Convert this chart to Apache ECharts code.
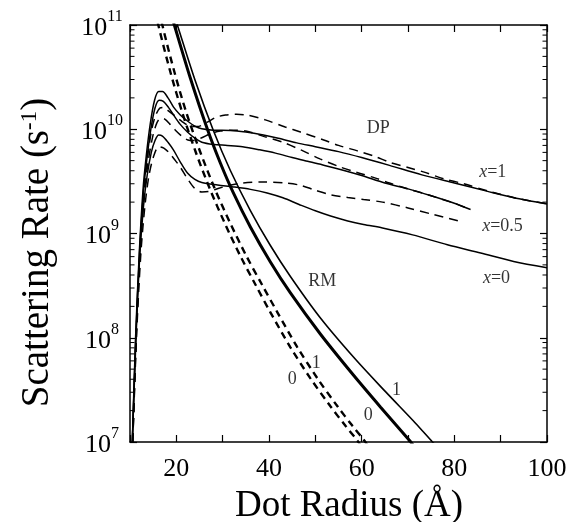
<!DOCTYPE html>
<html>
<head>
<meta charset="utf-8">
<script src="https://cdn.jsdelivr.net/npm/echarts@6/dist/echarts.min.js"></script>
<style>
html,body{margin:0;padding:0;background:#fff;}
#chart{width:580px;height:522px;}
</style>
</head>
<body>
<div id="chart"></div>
<script>
// ---- DP (deformation potential) curves: [dot radius Å, rate s^-1]
const dpSolidX1 = [[10.5,1e7],[11.2,1e8],[12,6.5e8],[12.8,2.6e9],[13.5,5.5e9],[14.4,1.15e10],[15.3,1.9e10],[16.2,2.3e10],[17,2.3e10],[18.2,2.0e10],[19.4,1.63e10],[20.8,1.38e10],[22.4,1.2e10],[24,1.07e10],[25.5,1.01e10],[28,9.8e9],[31.7,9.75e9],[35,9.4e9],[38.8,8.8e9],[42,8.2e9],[46,7.4e9],[50,6.8e9],[55,6.1e9],[60,5.35e9],[66,4.5e9],[73,3.65e9],[80,3.05e9],[87,2.55e9],[94,2.15e9],[100,1.92e9]];
const dpSolidX05 = [[10.5,1e7],[11.25,1e8],[12.05,6.5e8],[12.9,2.5e9],[13.6,5e9],[14.5,1e10],[15.4,1.6e10],[16.3,1.9e10],[17.2,1.85e10],[18.3,1.62e10],[19.4,1.37e10],[20.8,1.12e10],[22.4,9.4e9],[24,8.2e9],[25.5,7.5e9],[28,7.15e9],[31,7.0e9],[34.3,6.8e9],[38,6.35e9],[41.4,5.9e9],[45,5.35e9],[48,4.95e9],[52,4.5e9],[56,4.05e9],[60,3.6e9],[65,3.05e9],[70,2.68e9],[75,2.3e9],[80,1.95e9],[83.5,1.7e9]];
const dpSolidX0 = [[10.5,1e7],[11.3,1e8],[12.1,6e8],[12.9,1.8e9],[13.7,3.6e9],[14.6,6e9],[15.4,7.8e9],[16.2,8.8e9],[17,8.6e9],[18.2,7.5e9],[19.4,6.3e9],[20.8,4.9e9],[22.4,3.8e9],[24,3.3e9],[25.5,3.08e9],[28.9,2.92e9],[32.3,2.8e9],[36,2.65e9],[39.6,2.45e9],[43,2.2e9],[46.5,1.9e9],[50,1.65e9],[53.3,1.47e9],[57,1.32e9],[60.4,1.22e9],[64.5,1.13e9],[71,9.7e8],[78.5,7.8e8],[85.7,6.5e8],[92.8,5.4e8],[100,4.7e8]];
const dpDashX1 = [[10.6,1e7],[11.3,1e8],[12.1,6e8],[12.9,2.3e9],[13.7,5e9],[14.6,9.5e9],[15.5,1.35e10],[16.5,1.6e10],[17.3,1.62e10],[18.3,1.5e10],[19.8,1.33e10],[21.3,1.18e10],[23,1.07e10],[24.5,1.06e10],[26.7,1.17e10],[28.5,1.3e10],[30.6,1.37e10],[33,1.39e10],[35.5,1.36e10],[39.2,1.23e10],[43.5,1.05e10],[46.8,9.4e9],[51.8,7.9e9],[55,7.0e9],[59.1,6.2e9],[62.5,5.55e9],[66.2,4.8e9],[70,4.3e9],[73.3,3.9e9],[77.7,3.35e9],[82,3.0e9],[88,2.5e9],[94,2.15e9],[100,1.93e9]];
const dpDashX05 = [[10.6,1e7],[11.35,1e8],[12.15,6e8],[13,2.2e9],[13.9,4.8e9],[14.9,8.5e9],[15.8,1.15e10],[16.6,1.27e10],[17.5,1.25e10],[18.6,1.12e10],[19.8,9.8e9],[21.3,8.5e9],[22.5,7.9e9],[23.8,7.8e9],[25.5,8.3e9],[27.5,9.1e9],[29.5,9.6e9],[32,9.8e9],[35,9.6e9],[39,8.5e9],[43,7.5e9],[47,6.3e9],[51,5.2e9],[55,4.4e9],[59,3.85e9],[63,3.4e9],[66,3.05e9],[70,2.68e9],[75,2.3e9],[80,1.95e9],[83.5,1.7e9]];
const dpDashX0 = [[10.6,1e7],[11.4,1e8],[12.3,6e8],[13.2,1.8e9],[14.1,3.6e9],[15.1,5.5e9],[16.2,6.8e9],[17.3,6.6e9],[18.5,5.9e9],[19.8,5.0e9],[20.9,4.3e9],[22.5,3.3e9],[24,2.7e9],[25.5,2.5e9],[27,2.53e9],[29,2.7e9],[31.5,2.9e9],[34.3,3.05e9],[38.6,3.12e9],[43.5,3.05e9],[46.8,2.9e9],[50,2.6e9],[53.3,2.35e9],[57,2.22e9],[60.4,2.12e9],[64.5,2.0e9],[70,1.76e9],[75.5,1.52e9],[81.5,1.3e9]];

// ---- RM (ripple mechanism) curves
const rmSolidX0 = [[18.7,1.36e11],[19.57,1e11],[23.02,3.1e10],[26.69,1.006e10],[29.5,4.75e9],[32.31,2.45e9],[35.98,1.155e9],[40.3,5.33e8],[44.62,2.69e8],[51.08,1.087e8],[58.21,4.39e7],[64.04,2.17e7],[70.52,1.01e7],[71.2,9.2e6]];
const rmSolidX1 = [[19.35,1.33e11],[20.22,1e11],[24.1,2.9e10],[27.99,9.73e9],[31.66,4.02e9],[35.98,1.66e9],[40.3,7.67e8],[44.62,3.87e8],[51.1,1.547e8],[58.66,6.21e7],[65.14,3.04e7],[71.62,1.515e7],[75.29,1.0e7],[76,9.3e6]];
const rmDashX0 = [[15.5,1.4e11],[16.11,1e11],[18.7,3.56e10],[21.29,1.445e10],[24.1,6.19e9],[27.34,2.61e9],[30.58,1.22e9],[33.82,6.08e8],[37.06,3.24e8],[40.3,1.754e8],[44.62,8.1e7],[48.94,4.08e7],[53.26,2.2e7],[56.5,1.43e7],[59.09,1.03e7],[59.8,9.2e6]];
const rmDashX1 = [[16.4,1.4e11],[16.98,1e11],[19.57,3.56e10],[22.16,1.445e10],[25.08,6.19e9],[28.42,2.61e9],[31.77,1.22e9],[35.12,6.08e8],[38.47,3.24e8],[41.81,1.754e8],[46.13,8.1e7],[50.45,4.08e7],[54.77,2.2e7],[58.01,1.43e7],[60.6,1.03e7],[61.3,9.2e6]];

// ---- axes / ticks
const xMin = 10, xMax = 100, xStep = 10;
const xLabelValues = [20, 40, 60, 80, 100];
const yMin = 1e7, yMax = 1e11;
const yDecades = [1e7, 1e8, 1e9, 1e10];
const minorMultipliers = [2, 3, 4, 5, 6, 7, 8, 9];

// ---- text annotations [x, y, text]
const annotations = [
  [63.6, 1.03e10, 'DP'],
  [51.5, 3.5e8, 'RM'],
  [88.3, 3.89e9, '{i|x}=1'],
  [90.4, 1.18e9, '{i|x}=0.5'],
  [89.1, 3.74e8, '{i|x}=0'],
  [67.5, 3.15e7, '1'],
  [61.4, 1.82e7, '0'],
  [50.2, 5.7e7, '1'],
  [45.0, 4.0e7, '0']
];

const FONT = 'Liberation Serif';
const minorTickData = [];
yDecades.forEach(d => minorMultipliers.forEach(m => minorTickData.push([xMin, d * m])));

function lineSeries(data, opts) {
  return Object.assign({
    type: 'line', data: data, showSymbol: false, symbol: 'none',
    smooth: 0.3, silent: true, clip: true, z: 3,
    lineStyle: { color: '#000', width: 1.5, type: 'solid' }
  }, opts);
}

const chart = echarts.init(document.getElementById('chart'), null, { renderer: 'canvas' });
const axisCommon = {
  axisLine: { show: true, onZero: false, lineStyle: { color: '#000', width: 1.5 } },
  axisTick: { show: true, inside: true, length: 7, lineStyle: { color: '#000', width: 1.2 } },
  splitLine: { show: false }
};
chart.setOption({
  animation: false,
  backgroundColor: '#fff',
  grid: { left: 130, right: 33, top: 25, bottom: 80, containLabel: false, outerBoundsMode: 'none' },
  xAxis: [
    Object.assign({}, axisCommon, {
      type: 'value', position: 'bottom', min: xMin, max: xMax, interval: xStep,
      axisLabel: {
        show: true, margin: 14, color: '#000', fontFamily: FONT, fontSize: 26,
        formatter: v => xLabelValues.indexOf(v) >= 0 ? String(v) : ''
      },
      name: 'Dot Radius (Å)', nameLocation: 'middle', nameGap: 46,
      nameTextStyle: { color: '#000', fontFamily: FONT, fontSize: 37, padding: [0, 0, 0, 21] }
    }),
    Object.assign({}, axisCommon, {
      type: 'value', position: 'top', min: xMin, max: xMax, interval: xStep,
      axisLabel: { show: false }
    })
  ],
  yAxis: [
    Object.assign({}, axisCommon, {
      type: 'log', logBase: 10, position: 'left', min: yMin, max: yMax,
      axisLabel: {
        show: true, margin: 28, align: 'center', color: '#000', fontFamily: FONT,
        formatter: v => '{b|10}{s|' + Math.round(Math.log10(v)) + '}',
        rich: {
          b: { fontSize: 26, fontFamily: FONT, color: '#000', lineHeight: 32, verticalAlign: 'bottom' },
          s: { fontSize: 16, fontFamily: FONT, color: '#000', lineHeight: 16, verticalAlign: 'top' }
        }
      },
      name: 'Scattering Rate (s{sup|-1})', nameLocation: 'middle', nameGap: 73, nameRotate: 90,
      nameTextStyle: {
        color: '#000', fontFamily: FONT, fontSize: 39, padding: [0, 38, 0, 0],
        rich: { sup: { fontSize: 23, fontFamily: FONT, color: '#000', verticalAlign: 'top', lineHeight: 23 } }
      }
    }),
    Object.assign({}, axisCommon, {
      type: 'log', logBase: 10, position: 'right', min: yMin, max: yMax,
      axisLabel: { show: false }
    })
  ],
  series: [
    lineSeries(dpSolidX1, {}),
    lineSeries(dpSolidX05, {}),
    lineSeries(dpSolidX0, {}),
    lineSeries(dpDashX1, { lineStyle: { color: '#000', width: 1.5, type: [9, 6] } }),
    lineSeries(dpDashX05, { lineStyle: { color: '#000', width: 1.5, type: [9, 6] } }),
    lineSeries(dpDashX0, { lineStyle: { color: '#000', width: 1.5, type: [9, 6] } }),
    lineSeries(rmSolidX0, { lineStyle: { color: '#000', width: 3, type: 'solid' } }),
    lineSeries(rmSolidX1, { lineStyle: { color: '#000', width: 1.6, type: 'solid' } }),
    lineSeries(rmDashX0, { lineStyle: { color: '#000', width: 2.4, type: [7, 5] } }),
    lineSeries(rmDashX1, { lineStyle: { color: '#000', width: 2.4, type: [7, 5] } }),
    {
      type: 'custom', silent: true, z: 5, data: minorTickData,
      renderItem: function (params, api) {
        const v = api.value(1);
        const pL = api.coord([xMin, v]);
        const pR = api.coord([xMax, v]);
        return {
          type: 'group',
          children: [
            { type: 'line', shape: { x1: pL[0], y1: pL[1], x2: pL[0] + 4.5, y2: pL[1] }, style: { stroke: '#000', lineWidth: 1 } },
            { type: 'line', shape: { x1: pR[0] - 4.5, y1: pR[1], x2: pR[0], y2: pR[1] }, style: { stroke: '#000', lineWidth: 1 } }
          ]
        };
      }
    },
    {
      type: 'scatter', silent: true, symbolSize: 0, z: 6,
      data: annotations.map(a => ({ value: [a[0], a[1]], name: a[2] })),
      label: {
        show: true, position: [0, 0], align: 'center', verticalAlign: 'middle',
        color: '#000', fontFamily: FONT, fontSize: 18,
        formatter: p => p.name,
        rich: { i: { fontStyle: 'italic', fontFamily: FONT, fontSize: 18, color: '#000' } }
      }
    }
  ]
});
</script>
</body>
</html>
